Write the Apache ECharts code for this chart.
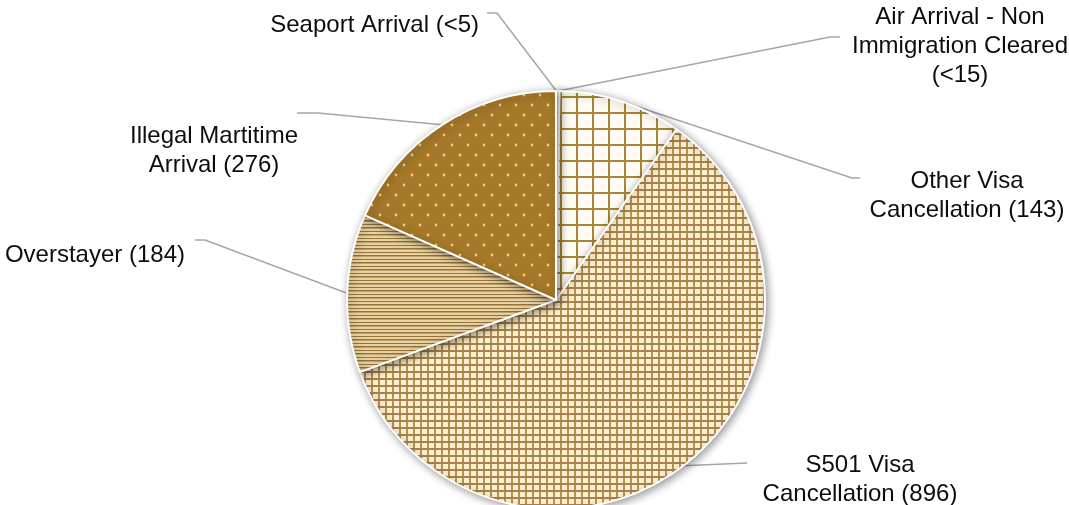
<!DOCTYPE html>
<html>
<head>
<meta charset="utf-8">
<script src="https://cdn.jsdelivr.net/npm/echarts@6/dist/echarts.min.js"></script>
<style>
html,body{margin:0;padding:0;background:#fff;}
#chart{width:1069px;height:505px;}
</style>
</head>
<body>
<div id="chart"></div>
<script>
// ---- data ----
const categories = ['Seaport Arrival', 'Air Arrival - Non Immigration Cleared', 'Other Visa Cancellation', 'S501 Visa Cancellation', 'Overstayer', 'Illegal Martitime Arrival'];
const values = [1, 3, 143, 896, 184, 276];
const labelTexts = [
  'Seaport Arrival (<5)',
  'Air Arrival - Non\nImmigration Cleared\n(<15)',
  'Other Visa\nCancellation (143)',
  'S501 Visa\nCancellation (896)',
  'Overstayer (184)',
  'Illegal Martitime\nArrival (276)'
];

// ---- layout of labels (positions only) ----
const labelSpots = [
  {x: 479, y: 25,  align: 'right',  elbow: [497, 13],  end: [487, 13]},
  {x: 960, y: 46,  align: 'center', elbow: [830, 37],  end: [840, 37]},
  {x: 967, y: 196, align: 'center', elbow: [852, 178], end: [860, 178]},
  {x: 860, y: 480, align: 'center', elbow: [747, 463], end: [747, 463]},
  {x: 185, y: 255, align: 'right',  elbow: [205, 240], end: [195, 240]},
  {x: 214, y: 151, align: 'center', elbow: [318, 113], end: [297, 113]}
];

// ---- patterns ----
function tile(w, h, bg, draw) {
  const c = document.createElement('canvas');
  c.width = w; c.height = h;
  const ctx = c.getContext('2d');
  ctx.fillStyle = bg; ctx.fillRect(0, 0, w, h);
  draw(ctx);
  return {image: c, repeat: 'repeat'};
}
const patBigGrid = tile(16, 16, '#fffcf4', ctx => {
  ctx.fillStyle = '#a98633';
  ctx.fillRect(0, 0, 2, 16); ctx.fillRect(0, 0, 16, 2);
});
const patSmallGrid = tile(7, 7, '#fff0cf', ctx => {
  ctx.fillStyle = '#b1964f';
  ctx.fillRect(0, 0, 2, 7);
  ctx.fillStyle = '#a98050';
  ctx.fillRect(0, 0, 7, 2);
});
const patStripes = tile(7, 7, '#e8d2a2', ctx => {
  ctx.fillStyle = '#957339';
  ctx.fillRect(0, 0, 7, 1); ctx.fillRect(0, 3, 7, 1.5);
});
const patDots = tile(16, 20, '#a6792a', ctx => {
  ctx.fillStyle = '#f3cd7c';
  [[4, 5], [12, 15]].forEach(p => { ctx.beginPath(); ctx.arc(p[0], p[1], 1.4, 0, Math.PI * 2); ctx.fill(); });
});
const sliceFills = [patDots, patBigGrid, patBigGrid, patSmallGrid, patStripes, patDots];

const chart = echarts.init(document.getElementById('chart'));
chart.setOption({
  animation: false,
  backgroundColor: '#ffffff',
  series: [{
    type: 'pie',
    center: [556, 300],
    radius: 209,
    startAngle: 90,
    clockwise: true,
    avoidLabelOverlap: false,
    data: categories.map((name, i) => ({
      name: name,
      value: values[i],
      itemStyle: {color: sliceFills[i]},
      label: {formatter: labelTexts[i]}
    })),
    itemStyle: {
      borderColor: '#ffffff',
      borderWidth: 2,
      shadowBlur: 8,
      shadowColor: 'rgba(0,0,0,0.4)',
      shadowOffsetX: 2,
      shadowOffsetY: 2
    },
    label: {
      show: true,
      position: 'outside',
      fontFamily: 'Liberation Sans, Arial, sans-serif',
      fontSize: 24,
      lineHeight: 29,
      color: '#0d0d0d'
    },
    labelLine: {
      show: true,
      length: 20,
      length2: 10,
      lineStyle: {color: '#a6a6a6', width: 1.5}
    },
    emphasis: {disabled: true},
    labelLayout: function (params) {
      const s = labelSpots[params.dataIndex];
      const out = {x: s.x, y: s.y, align: s.align, verticalAlign: 'middle'};
      if (params.labelLinePoints && params.labelLinePoints.length) {
        out.labelLinePoints = [params.labelLinePoints[0], s.elbow, s.end];
      }
      return out;
    }
  }]
});
</script>
</body>
</html>
